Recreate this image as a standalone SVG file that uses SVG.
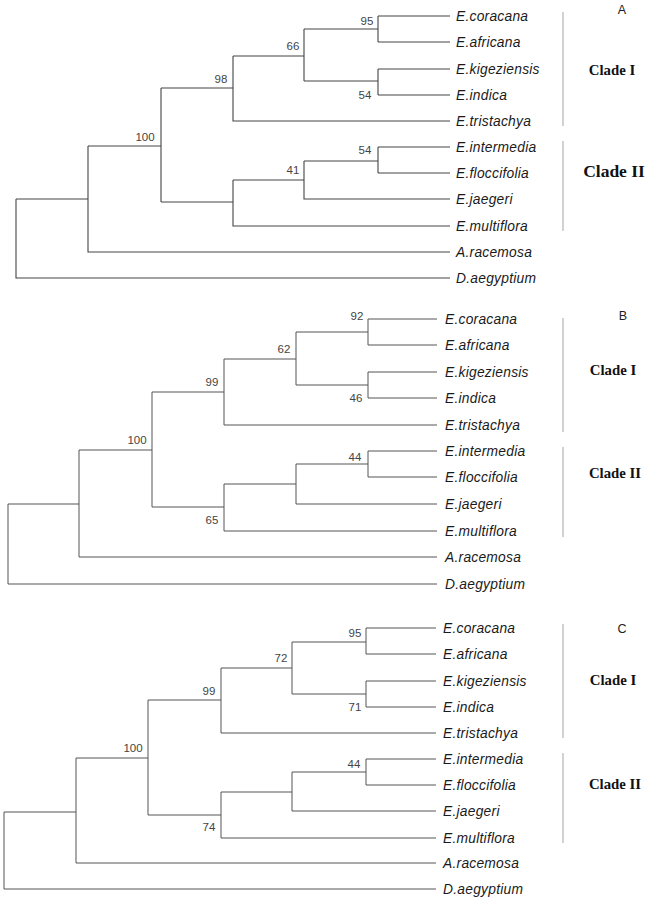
<svg xmlns="http://www.w3.org/2000/svg" width="654" height="900" viewBox="0 0 654 900">
<style>
.t{fill:none;stroke:#444;stroke-width:1.1}
.tb{fill:none;stroke:#555;stroke-width:1}
.bar{fill:none;stroke:#b5b5b5;stroke-width:1.2}
.leaf{font-family:"Liberation Sans",Arial,sans-serif;font-style:italic;font-size:13.8px;letter-spacing:0.25px;fill:#1a1a1a}
.bs{font-family:"Liberation Sans",Arial,sans-serif;font-size:11.5px;fill:#444;text-anchor:middle}
.clade{font-family:"Liberation Serif","Times New Roman",serif;font-weight:bold;font-size:14.8px;fill:#111;text-anchor:middle}
.big{font-size:17.5px}
.pl{font-family:"Liberation Sans",Arial,sans-serif;font-size:12.5px;fill:#222;text-anchor:middle}
</style>
<rect width="654" height="900" fill="#fff"/>

<!-- Panel A -->
<g id="connectors-A">
<path class="t" d="M16,199V278H450M16,199H88M88,146V252H450M88,146H161M161,88V202M161,88H233M161,202H233M233,56V121H450M233,56H304M304,29V81M304,29H378M304,81H378M378,16V42M378,16H450M378,42H450M378,69V95M378,69H450M378,95H450M233,180V226H450M233,180H304M304,161V199H450M304,161H378M378,147V173M378,147H450M378,173H450"/>
</g>
<g id="leaves-A" class="leaf">
<g id="A-coracana"><text x="456" y="21">E.coracana</text></g>
<g id="A-africana"><text x="456" y="47">E.africana</text></g>
<g id="A-kigeziensis"><text x="456" y="74">E.kigeziensis</text></g>
<g id="A-indica"><text x="456" y="100">E.indica</text></g>
<g id="A-tristachya"><text x="456" y="126">E.tristachya</text></g>
<g id="A-intermedia"><text x="456" y="152">E.intermedia</text></g>
<g id="A-floccifolia"><text x="456" y="178">E.floccifolia</text></g>
<g id="A-jaegeri"><text x="456" y="204">E.jaegeri</text></g>
<g id="A-multiflora"><text x="456" y="231">E.multiflora</text></g>
<g id="A-racemosa"><text x="456" y="257">A.racemosa</text></g>
<g id="A-aegyptium"><text x="456" y="283">D.aegyptium</text></g>
</g>
<g id="support-A" class="bs">
<text x="367" y="25">95</text>
<text x="365" y="99">54</text>
<text x="293" y="50">66</text>
<text x="221" y="83">98</text>
<text x="145" y="141">100</text>
<text x="293" y="174">41</text>
<text x="365" y="154">54</text>
</g>
<g id="clades-A">
<path class="bar" d="M563,12V126M563,141V231"/>
<text class="clade" x="612" y="75">Clade I</text>
<text class="clade big" x="614" y="177">Clade II</text>
<text class="pl" x="622" y="14">A</text>
</g>

<!-- Panel B -->
<g id="connectors-B">
<path class="tb" d="M8,504V584H437M8,504H79M79,450V557H437M79,450H152M152,392V507M152,392H224M152,507H224M224,359V425H437M224,359H296M296,332V385M296,332H368M296,385H368M368,319V345M368,319H437M368,345H437M368,372V398M368,372H437M368,398H437M224,484V531H437M224,484H296M296,464V504H437M296,464H368M368,451V477M368,451H437M368,477H437"/>
</g>
<g id="leaves-B" class="leaf">
<g id="B-coracana"><text x="445" y="324">E.coracana</text></g>
<g id="B-africana"><text x="445" y="350">E.africana</text></g>
<g id="B-kigeziensis"><text x="445" y="377">E.kigeziensis</text></g>
<g id="B-indica"><text x="445" y="403">E.indica</text></g>
<g id="B-tristachya"><text x="445" y="430">E.tristachya</text></g>
<g id="B-intermedia"><text x="445" y="456">E.intermedia</text></g>
<g id="B-floccifolia"><text x="445" y="482">E.floccifolia</text></g>
<g id="B-jaegeri"><text x="445" y="509">E.jaegeri</text></g>
<g id="B-multiflora"><text x="445" y="536">E.multiflora</text></g>
<g id="B-racemosa"><text x="445" y="562">A.racemosa</text></g>
<g id="B-aegyptium"><text x="445" y="589">D.aegyptium</text></g>
</g>
<g id="support-B" class="bs">
<text x="357" y="320">92</text>
<text x="356" y="402">46</text>
<text x="355" y="461">44</text>
<text x="284" y="353">62</text>
<text x="212" y="386">99</text>
<text x="137" y="444">100</text>
<text x="212" y="524">65</text>
</g>
<g id="clades-B">
<path class="bar" d="M563,318V432M563,447V537"/>
<text class="clade" x="613" y="375">Clade I</text>
<text class="clade" x="615" y="478">Clade II</text>
<text class="pl" x="623" y="320">B</text>
</g>

<!-- Panel C -->
<g id="connectors-C">
<path class="tb" d="M4,812V889H436M4,812H76M76,758V863H436M76,758H148M148,700V815M148,700H221M148,815H221M221,668V733H436M221,668H292M292,642V694M292,642H366M292,694H366M366,628V654M366,628H436M366,654H436M366,681V707M366,681H436M366,707H436M221,792V838H436M221,792H292M292,772V811H436M292,772H366M366,759V785M366,759H436M366,785H436"/>
</g>
<g id="leaves-C" class="leaf">
<g id="C-coracana"><text x="443" y="633">E.coracana</text></g>
<g id="C-africana"><text x="443" y="659">E.africana</text></g>
<g id="C-kigeziensis"><text x="443" y="686">E.kigeziensis</text></g>
<g id="C-indica"><text x="443" y="712">E.indica</text></g>
<g id="C-tristachya"><text x="443" y="738">E.tristachya</text></g>
<g id="C-intermedia"><text x="443" y="764">E.intermedia</text></g>
<g id="C-floccifolia"><text x="443" y="790">E.floccifolia</text></g>
<g id="C-jaegeri"><text x="443" y="816">E.jaegeri</text></g>
<g id="C-multiflora"><text x="443" y="843">E.multiflora</text></g>
<g id="C-racemosa"><text x="443" y="868">A.racemosa</text></g>
<g id="C-aegyptium"><text x="443" y="894">D.aegyptium</text></g>
</g>
<g id="support-C" class="bs">
<text x="355" y="637">95</text>
<text x="355" y="711">71</text>
<text x="354" y="768">44</text>
<text x="281" y="662">72</text>
<text x="209" y="695">99</text>
<text x="133" y="752">100</text>
<text x="209" y="831">74</text>
</g>
<g id="clades-C">
<path class="bar" d="M563,624V738M563,753V843"/>
<text class="clade" x="613" y="685">Clade I</text>
<text class="clade" x="615" y="789">Clade II</text>
<text class="pl" x="622" y="633">C</text>
</g>
</svg>
